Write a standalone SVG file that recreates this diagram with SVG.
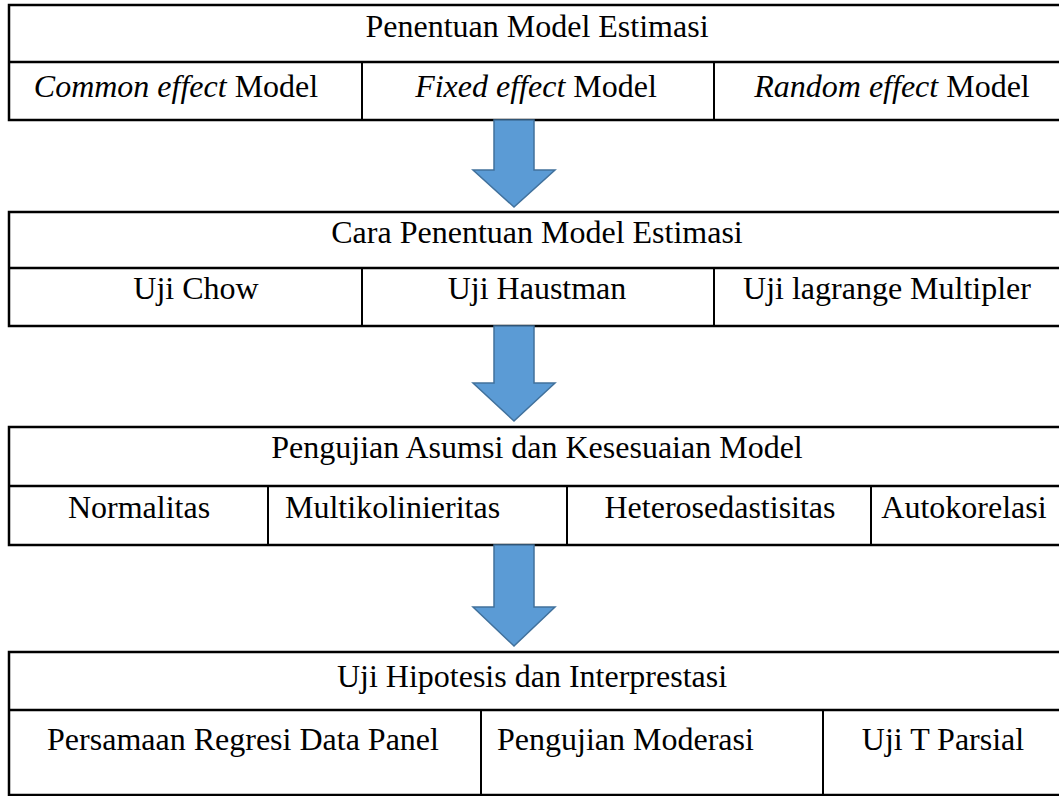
<svg xmlns="http://www.w3.org/2000/svg" width="1059" height="796" viewBox="0 0 1059 796">
<style>
.frame{fill:#fff;stroke:#000;stroke-width:2.5}
.hl{stroke:#000;stroke-width:2.5}
.vl{stroke:#000;stroke-width:2}
text{font-family:"Liberation Serif","Times New Roman",serif;font-size:32px;fill:#000}
.c{text-anchor:middle}
.s{text-anchor:start}
.arrow{fill:#5B9BD5;stroke:#41719C;stroke-width:1.5}
</style>
<rect width="1059" height="796" fill="#fff"/>
<g id="table1">
<rect class="frame" x="9" y="5" width="1060" height="115"/>
<line class="hl" x1="9" y1="62" x2="1069" y2="62"/>
<line class="vl" x1="362" y1="62" x2="362" y2="120"/>
<line class="vl" x1="714" y1="62" x2="714" y2="120"/>
<text class="c" x="537" y="37">Penentuan Model Estimasi</text>
<text class="c" x="176" y="97"><tspan font-style="italic">Common effect</tspan> Model</text>
<text class="c" x="536" y="97"><tspan font-style="italic">Fixed effect</tspan> Model</text>
<text class="c" x="892" y="97"><tspan font-style="italic">Random effect</tspan> Model</text>
</g>
<g id="table2">
<rect class="frame" x="9" y="212" width="1060" height="114"/>
<line class="hl" x1="9" y1="268" x2="1069" y2="268"/>
<line class="vl" x1="362" y1="268" x2="362" y2="326"/>
<line class="vl" x1="714" y1="268" x2="714" y2="326"/>
<text class="c" x="537" y="243">Cara Penentuan Model Estimasi</text>
<text class="c" x="196" y="299">Uji Chow</text>
<text class="c" x="537" y="299">Uji Haustman</text>
<text class="c" x="887" y="299">Uji lagrange Multipler</text>
</g>
<g id="table3">
<rect class="frame" x="9" y="427" width="1060" height="118"/>
<line class="hl" x1="9" y1="486" x2="1069" y2="486"/>
<line class="vl" x1="268" y1="486" x2="268" y2="545"/>
<line class="vl" x1="567" y1="486" x2="567" y2="545"/>
<line class="vl" x1="871" y1="486" x2="871" y2="545"/>
<text class="c" x="537" y="458">Pengujian Asumsi dan Kesesuaian Model</text>
<text class="c" x="139" y="518">Normalitas</text>
<text class="s" x="285" y="518">Multikolinieritas</text>
<text class="c" x="720" y="518">Heterosedastisitas</text>
<text class="c" x="964" y="518">Autokorelasi</text>
</g>
<g id="table4">
<rect class="frame" x="9" y="652" width="1060" height="143"/>
<line class="hl" x1="9" y1="710" x2="1069" y2="710"/>
<line class="vl" x1="481" y1="710" x2="481" y2="795"/>
<line class="vl" x1="823" y1="710" x2="823" y2="795"/>
<text class="c" x="532" y="687">Uji Hipotesis dan Interprestasi</text>
<text class="c" x="243" y="750">Persamaan Regresi Data Panel</text>
<text class="s" x="497" y="750">Pengujian Moderasi</text>
<text class="c" x="943" y="750">Uji T Parsial</text>
</g>
<g id="connectors">
<polygon class="arrow" points="494,120 534,120 534,170 555,170 514,207 473,170 494,170"/>
<polygon class="arrow" points="494,326 534,326 534,383 555,383 514,421 473,383 494,383"/>
<polygon class="arrow" points="494,545 534,545 534,607 555,607 514,646 473,607 494,607"/>
</g>
</svg>
